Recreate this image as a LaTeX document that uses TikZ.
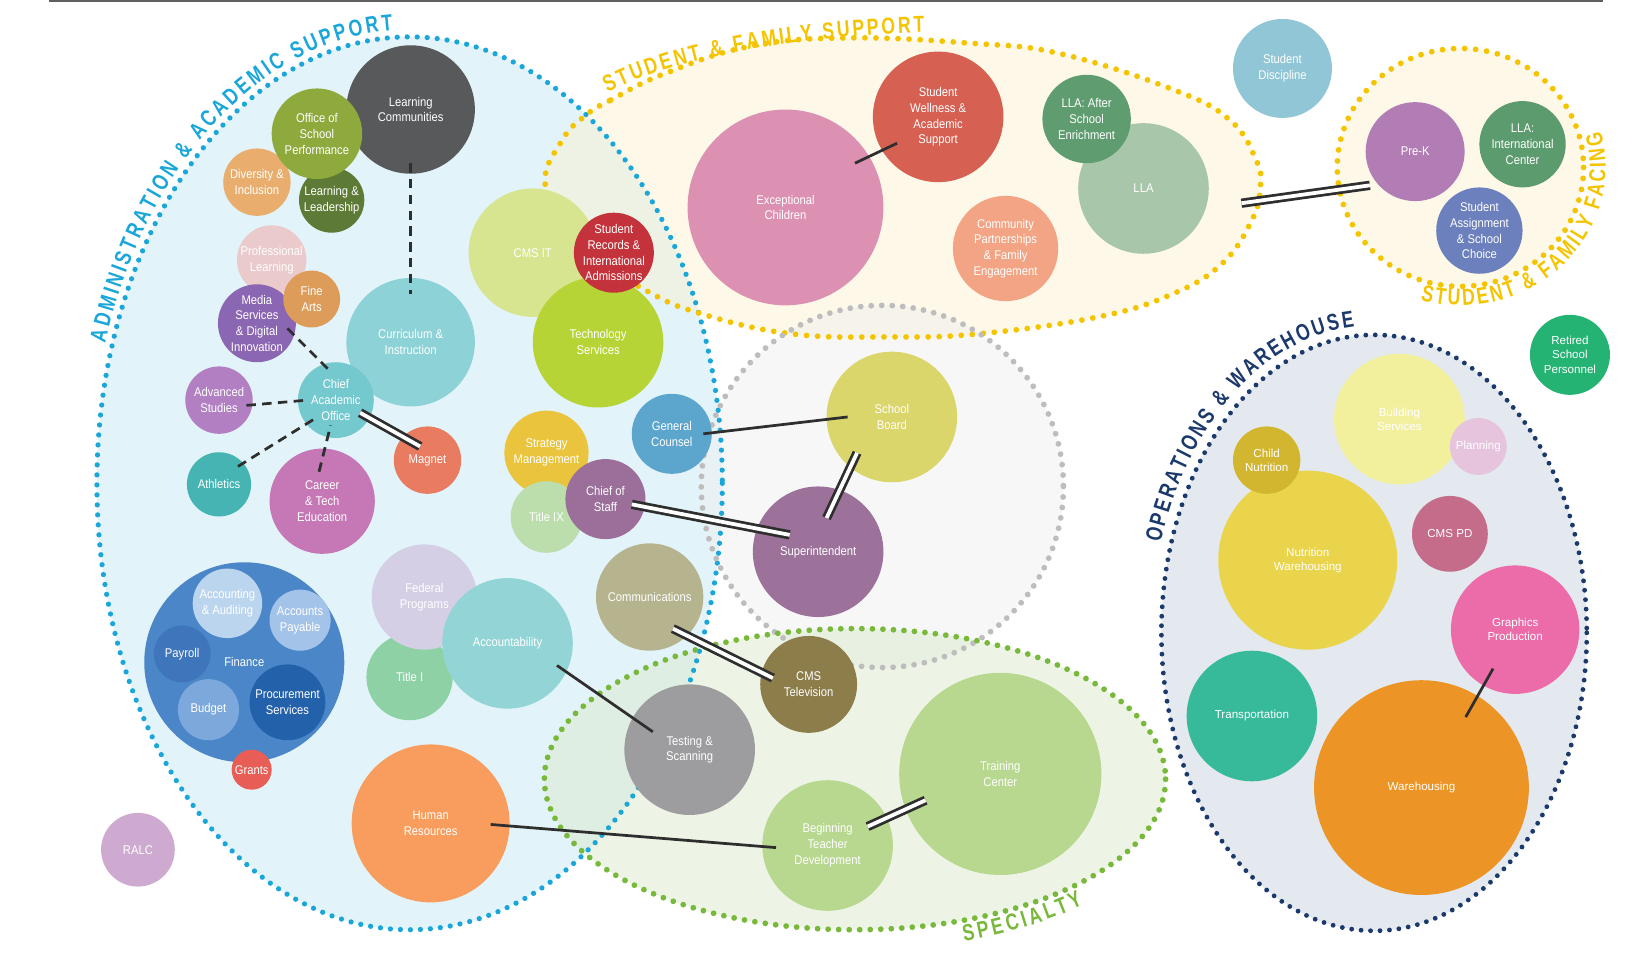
\documentclass[tikz,border=0pt]{standalone}
\usepackage{fontspec}
\setmainfont{Liberation Sans}
\newfontfamily\bubfont{Liberation Sans}[FakeStretch=0.89]
\newfontfamily\grpfont{Liberation Sans}[FakeStretch=0.76]
\usetikzlibrary{calc,decorations.text}

% group outlines
\definecolor{admline}{HTML}{1AA6D8}
\definecolor{admfill}{HTML}{C6E8F4}
\definecolor{sfsline}{HTML}{F5C400}
\definecolor{sfsfill}{HTML}{FBF1CF}
\definecolor{supline}{HTML}{BDBDBD}
\definecolor{supfill}{HTML}{EFEFEF}
\definecolor{spcline}{HTML}{78B83A}
\definecolor{spcfill}{HTML}{DBEACB}
\definecolor{opsline}{HTML}{1B3A6B}
\definecolor{opsfill}{HTML}{E3E9EE}
\definecolor{lnk}{HTML}{2E2E2E}
% bubbles
\definecolor{clc}{HTML}{58595B}
\definecolor{cosp}{HTML}{8EA93C}
\definecolor{cdni}{HTML}{E9AE6D}
\definecolor{clnl}{HTML}{5D7B36}
\definecolor{cprl}{HTML}{EACACB}
\definecolor{cfna}{HTML}{DE9C5A}
\definecolor{cmsd}{HTML}{8B66B2}
\definecolor{ccni}{HTML}{8CD2D6}
\definecolor{ccao}{HTML}{73C9CE}
\definecolor{cads}{HTML}{B27FC2}
\definecolor{cmag}{HTML}{E97B60}
\definecolor{cath}{HTML}{45B4B2}
\definecolor{ccte}{HTML}{C577B6}
\definecolor{cfin}{HTML}{4B87C8}
\definecolor{cacc}{HTML}{BCD5EF}
\definecolor{cap}{HTML}{A4C3E8}
\definecolor{cpay}{HTML}{3F75BB}
\definecolor{cbud}{HTML}{7DA8DC}
\definecolor{cpro}{HTML}{2461AB}
\definecolor{cgra}{HTML}{E85D55}
\definecolor{cfed}{HTML}{D5CFE5}
\definecolor{cti}{HTML}{8DD1A5}
\definecolor{cacy}{HTML}{93D5D6}
\definecolor{chr}{HTML}{F89D5D}
\definecolor{ccit}{HTML}{D7E590}
\definecolor{csra}{HTML}{C4333B}
\definecolor{ctec}{HTML}{B7D436}
\definecolor{cstm}{HTML}{E9C43C}
\definecolor{ctix}{HTML}{BBDEAC}
\definecolor{ccos}{HTML}{9B6F99}
\definecolor{cgc}{HTML}{5CA6CE}
\definecolor{ccom}{HTML}{B6B48F}
\definecolor{cec}{HTML}{DD91B2}
\definecolor{cswa}{HTML}{D66052}
\definecolor{ccpf}{HTML}{F2A484}
\definecolor{clas}{HTML}{5F9C70}
\definecolor{clla}{HTML}{A7C6AA}
\definecolor{csdi}{HTML}{90C6D5}
\definecolor{cprk}{HTML}{B27DB4}
\definecolor{clic}{HTML}{5C9B6E}
\definecolor{csas}{HTML}{6B80BC}
\definecolor{crsp}{HTML}{24B373}
\definecolor{csbd}{HTML}{DAD66C}
\definecolor{csup}{HTML}{9C729A}
\definecolor{cctv}{HTML}{8C7D4B}
\definecolor{ctns}{HTML}{9D9DA0}
\definecolor{cbtd}{HTML}{B8D78F}
\definecolor{ctrc}{HTML}{B8D78F}
\definecolor{cralc}{HTML}{CEAAD0}
\definecolor{cbsv}{HTML}{F2F09C}
\definecolor{cpln}{HTML}{E7C4DE}
\definecolor{cchn}{HTML}{D3B630}
\definecolor{cnwh}{HTML}{E9D44C}
\definecolor{ccpd}{HTML}{C46C8A}
\definecolor{cgpr}{HTML}{EB6CA8}
\definecolor{ctrn}{HTML}{36BA9A}
\definecolor{cwrh}{HTML}{ED9426}

\begin{document}
\begin{tikzpicture}[x=1pt, y=-1pt,
  bub/.style={circle, inner sep=-12pt, align=center, text=white, minimum size=#1,
    font=\bubfont\fontsize{12}{15}\selectfont},
  obub/.style={bub=#1, font=\rmfamily\fontsize{11}{13.5}\selectfont},
  dots/.style={line width=5pt, line cap=round, dash pattern=on 0pt off 9.5pt},
  link/.style={lnk, line width=2.6pt},
  dlink/.style={lnk, line width=2.6pt, double=white, double distance=3.6pt},
  dashlink/.style={lnk, line width=2.6pt, dash pattern=on 9pt off 6pt}]
  \useasboundingbox (0,0) rectangle (1568,915);
  \draw[gray!75!black, line width=1.6pt] (47,1) -- (1522,1);

  % group fills
  \fill[admfill, fill opacity=0.5] (389,459) ellipse [x radius=297, y radius=424];
  \fill[sfsfill, fill opacity=0.5] plot[smooth cycle, tension=0.7] coordinates {(557,109) (580,95) (631,70) (712,44) (805,36) (922,41) (1007,51) (1114,85) (1168,114) (1193,152) (1197,178) (1189,209) (1161,250) (1114,279) (1043,301) (930,317) (844,320) (751,317) (666,298) (612,275) (548,232) (518,177) (534,133)};
  \fill[supfill, fill opacity=0.5] (838,462) circle [radius=172];
  \fill[spcfill, fill opacity=0.5] (812,740) ellipse [x radius=295, y radius=143];
  \fill[sfsfill, fill opacity=0.5] (1387,159) ellipse [x radius=117, y radius=113];
  \fill[opsfill] (1305,601) ellipse [x radius=202, y radius=283];

  % group outlines
  \draw[dots, admline] (389,459) ellipse [x radius=297, y radius=424];
  \draw[dots, sfsline, line width=5.5pt, dash pattern=on 0pt off 10.5pt] plot[smooth cycle, tension=0.7] coordinates {(557,109) (580,95) (631,70) (712,44) (805,36) (922,41) (1007,51) (1114,85) (1168,114) (1193,152) (1197,178) (1189,209) (1161,250) (1114,279) (1043,301) (930,317) (844,320) (751,317) (666,298) (612,275) (548,232) (518,177) (534,133)};
  \draw[dots, supline, line width=5.5pt, dash pattern=on 0pt off 10pt] (838,462) circle [radius=172];
  \draw[dots, spcline, line width=5.5pt, dash pattern=on 0pt off 10pt] (812,740) ellipse [x radius=295, y radius=143];
  \draw[dots, sfsline, line width=5.5pt, dash pattern=on 0pt off 10.5pt] (1387,159) ellipse [x radius=117, y radius=113];
  \draw[dots, opsline, line width=4.6pt, dash pattern=on 0pt off 9pt] (1305,601) ellipse [x radius=202, y radius=283];

  % administration & academic support
  \node[bub=122, fill=clc] (lc) at (390,104) {Learning\\Communities};
  \node[bub=62, fill=clnl] (lnl) at (315,190) {Learning \&\\Leadership};
  \node[bub=64, fill=cdni] (dni) at (244,173) {Diversity \&\\Inclusion};
  \node[bub=86, fill=cosp] (osp) at (301,127) {Office of\\School\\Performance};
  \node[bub=66, fill=cprl] (prl) at (258,247) {Professional\\Learning};
  \node[bub=74, fill=cmsd] (msd) at (244,307) {Media\\Services\\\& Digital\\Innovation};
  \node[bub=54, fill=cfna] (fna) at (296,284) {Fine\\Arts};
  \node[bub=122, fill=ccni] (cni) at (390,325) {Curriculum \&\\Instruction};
  \node[bub=72, fill=ccao] (cao) at (319,380) {Chief\\Academic\\Office};
  \node[bub=64, fill=cads] (ads) at (208,380) {Advanced\\Studies};
  \node[bub=64, fill=cmag] (mag) at (406,437) {Magnet};
  \node[bub=61, fill=cath] (ath) at (208,460) {Athletics};
  \node[bub=100, fill=ccte] (cte) at (306,476) {Career\\\& Tech\\Education};
  \node[bub=190, fill=cfin] (fin) at (232,629) {Finance};
  \node[bub=66, fill=cacc] (acc) at (216,573) {Accounting\\\& Auditing};
  \node[bub=58, fill=cap] (ap) at (285,589) {Accounts\\Payable};
  \node[bub=54, fill=cpay] (pay) at (173,621) {Payroll};
  \node[bub=58, fill=cbud] (bud) at (198,674) {Budget};
  \node[bub=72, fill=cpro] (pro) at (273,667) {Procurement\\Services};
  \node[bub=38, fill=cgra] (gra) at (239,731) {Grants};
  \node[bub=82, fill=cti] (ti) at (389,643) {Title I};
  \node[bub=100, fill=cfed] (fed) at (403,567) {Federal\\Programs};
  \node[bub=124, fill=cacy] (acy) at (482,611) {Accountability};
  \node[bub=150, fill=chr] (hr) at (409,782) {Human\\Resources};
  \node[bub=122, fill=ccit] (cit) at (506,240) {CMS IT};
  \node[bub=124, fill=ctec] (tec) at (568,325) {Technology\\Services};
  \node[bub=76, fill=csra] (sra) at (583,240) {Student\\Records \&\\International\\Admissions};
  \node[bub=80, fill=cstm] (stm) at (519,430) {Strategy\\Management};
  \node[bub=68, fill=ctix] (tix) at (519,491) {Title IX};
  \node[bub=76, fill=ccos] (cos) at (575,474) {Chief of\\Staff};
  \node[bub=76, fill=cgc] (gc) at (638,412) {General\\Counsel};
  \node[bub=102, fill=ccom] (com) at (617,567) {Communications};
  \node[bub=70, fill=cralc] (ralc) at (131,807) {RALC};

  % student & family support
  \node[bub=186, fill=cec] (ec) at (746,197) {Exceptional\\Children};
  \node[bub=124, fill=cswa] (swa) at (891,111) {Student\\Wellness \&\\Academic\\Support};
  \node[bub=100, fill=ccpf] (cpf) at (955,236) {Community\\Partnerships\\\& Family\\Engagement};
  \node[bub=124, fill=clla] (lla) at (1086,179) {LLA};
  \node[bub=84, fill=clas] (las) at (1032,113) {LLA: After\\School\\Enrichment};
  \node[bub=94, fill=csdi] (sdi) at (1218,65) {Student\\Discipline};
  \node[bub=94, fill=cprk] (prk) at (1344,144) {Pre-K};
  \node[bub=82, fill=clic] (lic) at (1446,137) {LLA:\\International\\Center};
  \node[bub=82, fill=csas] (sas) at (1405,219) {Student\\Assignment\\\& School\\Choice};
  \node[obub=76, fill=crsp] (rsp) at (1491,337) {Retired\\School\\Personnel};

  % superintendent
  \node[bub=124, fill=csbd] (sbd) at (847,396) {School\\Board};
  \node[bub=124, fill=csup] (sup) at (777,524) {Superintendent};

  % specialty
  \node[bub=92, fill=cctv] (ctv) at (768,650) {CMS\\Television};
  \node[bub=124, fill=ctns] (tns) at (655,712) {Testing \&\\Scanning};
  \node[bub=124, fill=cbtd] (btd) at (786,803) {Beginning\\Teacher\\Development};
  \node[bub=192, fill=ctrc] (trc) at (950,735) {Training\\Center};

  % operations & warehouse
  \node[obub=124, fill=cbsv] (bsv) at (1329,398) {Building\\Services};
  \node[obub=54, fill=cpln] (pln) at (1404,424) {Planning};
  \node[obub=170, fill=cnwh] (nwh) at (1242,532) {Nutrition\\Warehousing};
  \node[obub=64, fill=cchn] (chn) at (1203,437) {Child\\Nutrition};
  \node[obub=72, fill=ccpd] (cpd) at (1377,507) {CMS PD};
  \node[obub=122, fill=cgpr] (gpr) at (1439,598) {Graphics\\Production};
  \node[obub=124, fill=ctrn] (trn) at (1189,680) {Transportation};
  \node[obub=204, fill=cwrh] (wrh) at (1350,748) {Warehousing};

  % links
  \draw[dashlink] ($(lc)+(0,51)$) -- ($(cni)+(0,-46)$);
  \draw[dashlink] ($(msd)+(29,5)$) -- ($(cao)+(-4,-26)$);
  \draw[dashlink] ($(ads)+(26,5)$) -- ($(cao)+(-27,0)$);
  \draw[dashlink] ($(ath)+(18,-17)$) -- ($(cao)+(-19,17)$);
  \draw[dashlink] ($(cte)+(-3,-28)$) -- ($(cao)+(-5,24)$);
  \draw[dlink] ($(cao)+(23,12)$) -- ($(mag)+(-7,-13)$);
  \draw[link] ($(ec)+(66,-42)$) -- ($(swa)+(-39,25)$);
  \draw[dlink] ($(lla)+(93,14)$) -- ($(prk)+(-43,32)$);
  \draw[link] ($(gc)+(30,0)$) -- ($(sbd)+(-42,0)$);
  \draw[dlink] ($(sbd)+(-33,34)$) -- ($(sup)+(8,-32)$);
  \draw[dlink] ($(cos)+(25,5)$) -- ($(sup)+(-27,-16)$);
  \draw[dlink] ($(com)+(22,30)$) -- ($(ctv)+(-34,-6)$);
  \draw[link] ($(acy)+(47,21)$) -- ($(tns)+(-35,-17)$);
  \draw[link] ($(hr)+(57,1)$) -- ($(btd)+(-49,2)$);
  \draw[dlink] ($(btd)+(38,-18)$) -- ($(trc)+(-71,25)$);
  \draw[link] ($(gpr)+(-21,37)$) -- ($(wrh)+(42,-67)$);

  % group titles
  \path[decorate, decoration={text along path, text align={fit to path},
      text={|\grpfont\bfseries\fontsize{22}{22}\selectfont\color{admline}|ADMINISTRATION {\&} ACADEMIC SUPPORT}}]
    (389,459) ++(198:304 and 431) arc[start angle=198, end angle=267, x radius=304, y radius=431];
  \path[decorate, decoration={text along path, text align={fit to path},
      text={|\grpfont\bfseries\fontsize{22}{22}\selectfont\color{sfsline}|STUDENT {\&} FAMILY SUPPORT}}]
    (577,88) .. controls (640,55) and (750,35) .. (878,31);
  \path[decorate, decoration={text along path, text align={fit to path},
      text={|\grpfont\bfseries\fontsize{22}{22}\selectfont\color{sfsline}|STUDENT {\&} FAMILY FACING}}]
    (1387,159) ++(106:138 and 131) arc[start angle=106, end angle=-15, x radius=138, y radius=131];
  \path[decorate, decoration={text along path, text align={fit to path},
      text={|\grpfont\bfseries\fontsize{22}{22}\selectfont\color{opsline}|OPERATIONS {\&} WAREHOUSE}}]
    (1305,601) ++(197:212 and 292) arc[start angle=197, end angle=265, x radius=212, y radius=292];
  \path[decorate, decoration={text along path, text align={fit to path},
      text={|\grpfont\bfseries\fontsize{22}{22}\selectfont\color{spcline}|SPECIALTY}}]
    (812,740) ++(71:318 and 163) arc[start angle=71, end angle=47, x radius=318, y radius=163];
\end{tikzpicture}
\end{document}
